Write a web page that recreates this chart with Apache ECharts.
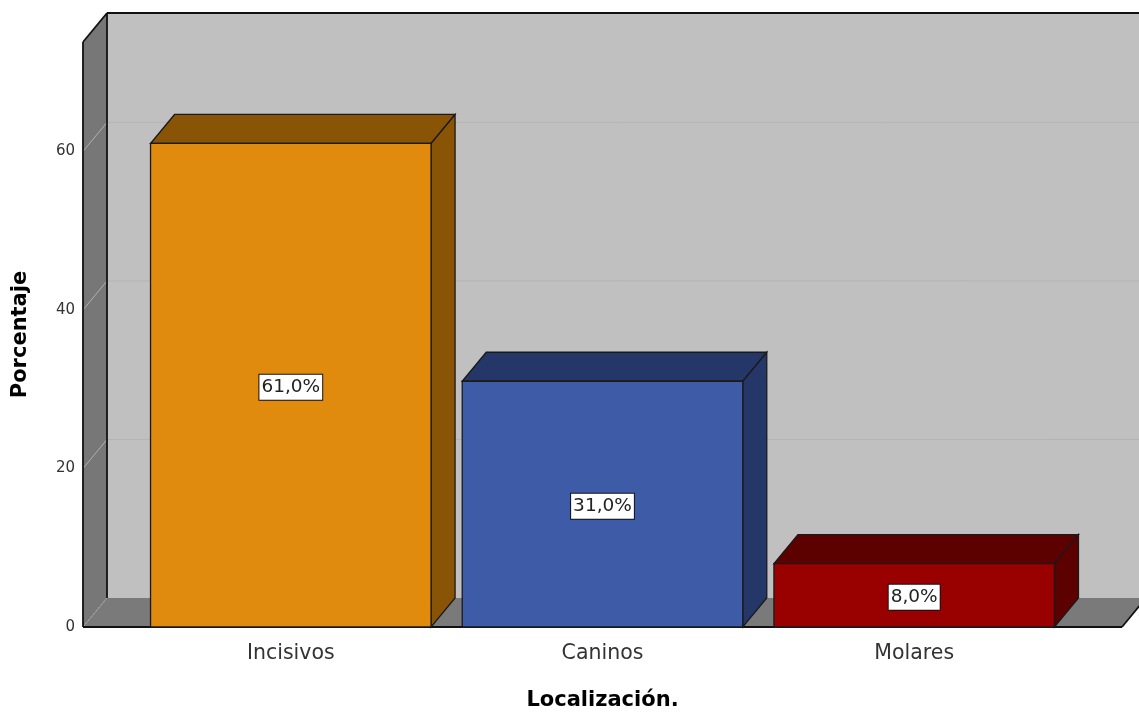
<!DOCTYPE html>
<html>
<head>
<meta charset="utf-8">
<script src="https://cdn.jsdelivr.net/npm/echarts@6/dist/echarts.min.js"></script>
<style>
  html, body { margin: 0; padding: 0; background: #ffffff; }
  #chart { width: 1139px; height: 717px; }
</style>
</head>
<body>
<div id="chart"></div>
<script>
// Localización de las lesiones (porcentaje por grupo dentario)
const categories = ['Incisivos', 'Caninos', 'Molares'];
const percentages = [61.0, 31.0, 8.0];
const yTicks = [0, 20, 40, 60];

const faceColors = ['#e08a0e', '#3e5ba8', '#990000'];
const shadeColors = ['#8a5407', '#253769', '#5c0000'];

// Pseudo-3D depth of the box (pixels) and axis extents
const DEPTH_X = 24;
const DEPTH_Y = -29;
const X_MIN = -2 / 3;
const X_MAX = 8 / 3;
const Y_MAX = 73.8;
const BAR_WIDTH = 0.9;
const FONT = '"DejaVu Sans", sans-serif';

const back = p => [p[0] + DEPTH_X, p[1] + DEPTH_Y];

// Walls, floor and grid lines of the 3D box
function renderFrame(params, api) {
  const fBL = api.coord([X_MIN, 0]);
  const fBR = api.coord([X_MAX, 0]);
  const fTL = api.coord([X_MIN, Y_MAX]);
  const fTR = api.coord([X_MAX, Y_MAX]);
  const children = [];

  // back wall
  children.push({
    type: 'polygon',
    shape: { points: [back(fTL), back(fTR), back(fBR), back(fBL)] },
    style: { fill: '#c0c0c0' }
  });
  // horizontal grid lines on the back wall
  yTicks.forEach(v => {
    if (v === 0) return;
    const a = back(api.coord([X_MIN, v]));
    const b = back(api.coord([X_MAX, v]));
    children.push({
      type: 'line',
      shape: { x1: a[0], y1: a[1], x2: b[0], y2: b[1] },
      style: { stroke: '#b4b4b4', lineWidth: 1 }
    });
  });
  // floor
  children.push({
    type: 'polygon',
    shape: { points: [fBL, back(fBL), back(fBR), fBR] },
    style: { fill: '#7a7a7a' }
  });
  // left wall
  children.push({
    type: 'polygon',
    shape: { points: [fTL, back(fTL), back(fBL), fBL] },
    style: { fill: '#777777' }
  });
  // diagonal grid lines on the left wall
  yTicks.forEach(v => {
    const a = api.coord([X_MIN, v]);
    const b = back(a);
    children.push({
      type: 'line',
      shape: { x1: a[0], y1: a[1], x2: b[0], y2: b[1] },
      style: { stroke: '#b0b0b0', lineWidth: 1, lineDash: v === 0 ? [2, 2] : null }
    });
  });
  // outline edges
  const edges = [
    [back(fTL), back(fTR)],
    [back(fTL), back(fBL)],
    [fTL, back(fTL)],
    [fTL, fBL],
    [fBL, fBR],
    [fBR, back(fBR)]
  ];
  edges.forEach(([a, b]) => {
    children.push({
      type: 'line',
      shape: { x1: a[0], y1: a[1], x2: b[0], y2: b[1] },
      style: { stroke: '#111111', lineWidth: 1.8 }
    });
  });
  return { type: 'group', children };
}

// One 3D bar: front face, top face, right side face and the value label
function renderBar(params, api) {
  const idx = api.value(0);
  const val = api.value(1);
  const bl = api.coord([idx - BAR_WIDTH / 2, 0]);
  const tr = api.coord([idx + BAR_WIDTH / 2, val]);
  const x0 = bl[0], y0 = bl[1], x1 = tr[0], y1 = tr[1];
  const face = faceColors[params.dataIndex];
  const shade = shadeColors[params.dataIndex];
  const edge = { stroke: '#1a1a1a', lineWidth: 1.3, lineJoin: 'miter' };
  const mid = api.coord([idx, val / 2]);
  return {
    type: 'group',
    children: [
      {
        type: 'polygon',
        shape: { points: [[x0, y1], [x0 + DEPTH_X, y1 + DEPTH_Y], [x1 + DEPTH_X, y1 + DEPTH_Y], [x1, y1]] },
        style: Object.assign({ fill: shade }, edge)
      },
      {
        type: 'polygon',
        shape: { points: [[x1, y1], [x1 + DEPTH_X, y1 + DEPTH_Y], [x1 + DEPTH_X, y0 + DEPTH_Y], [x1, y0]] },
        style: Object.assign({ fill: shade }, edge)
      },
      {
        type: 'rect',
        shape: { x: x0, y: y1, width: x1 - x0, height: y0 - y1 },
        style: Object.assign({ fill: face }, edge)
      },
      {
        type: 'text',
        x: mid[0],
        y: mid[1] + 2,
        style: {
          text: val.toFixed(1).replace('.', ',') + '%',
          align: 'center',
          verticalAlign: 'middle',
          fontFamily: FONT,
          fontSize: 18.5,
          fill: '#222222',
          backgroundColor: '#ffffff',
          borderColor: '#111111',
          borderWidth: 1,
          padding: [4, 2, 2, 2]
        }
      }
    ]
  };
}

const chart = echarts.init(document.getElementById('chart'), null, { renderer: 'canvas' });
chart.setOption({
  animation: false,
  backgroundColor: '#ffffff',
  grid: { left: 83, right: 17, top: 42, bottom: 90 },
  xAxis: {
    type: 'value',
    min: X_MIN,
    max: X_MAX,
    axisLine: { show: false },
    axisTick: { show: false },
    splitLine: { show: false },
    axisLabel: {
      customValues: [0, 1, 2],
      formatter: v => categories[Math.round(v)],
      fontFamily: FONT,
      fontSize: 20.5,
      color: '#333333',
      margin: 16
    },
    name: 'Localización.',
    nameLocation: 'middle',
    nameGap: 63,
    nameTextStyle: { fontFamily: FONT, fontSize: 21, fontWeight: 'bold', color: '#000000' }
  },
  yAxis: {
    type: 'value',
    min: 0,
    max: Y_MAX,
    axisLine: { show: false },
    axisTick: { show: false },
    splitLine: { show: false },
    axisLabel: {
      customValues: yTicks,
      fontFamily: FONT,
      fontSize: 15,
      color: '#333333',
      margin: 8,
      padding: [5, 0, 0, 0]
    },
    name: 'Porcentaje',
    nameLocation: 'middle',
    nameRotate: 90,
    nameGap: 52,
    nameTextStyle: { fontFamily: FONT, fontSize: 21, fontWeight: 'bold', color: '#000000' }
  },
  series: [
    {
      type: 'custom',
      silent: true,
      z: 1,
      renderItem: renderFrame,
      data: [[0, 0]],
      clip: false
    },
    {
      type: 'custom',
      silent: true,
      z: 2,
      renderItem: renderBar,
      data: categories.map((c, i) => [i, percentages[i]]),
      clip: false
    }
  ]
});
</script>
</body>
</html>
